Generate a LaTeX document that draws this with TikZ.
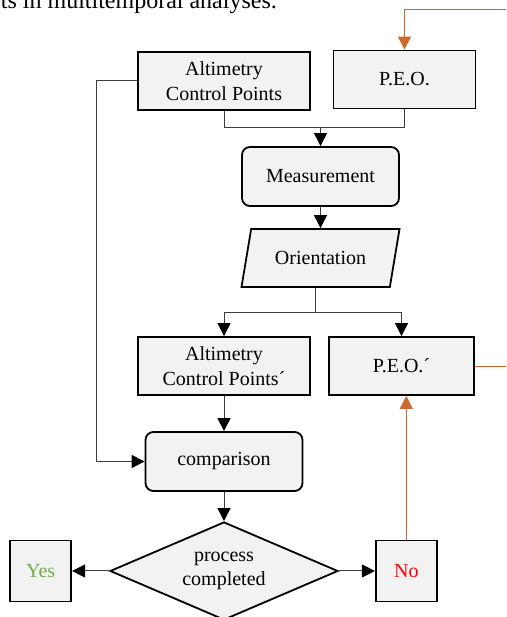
\documentclass[tikz,border=0pt]{standalone}
\usepackage{fontspec}
\setmainfont{Liberation Serif}
\definecolor{boxfill}{RGB}{242,242,242}
\definecolor{wiregray}{RGB}{60,60,60}
\definecolor{peoorange}{RGB}{205,105,45}
\definecolor{yesgreen}{RGB}{112,173,71}
\definecolor{nored}{RGB}{255,0,0}
\usetikzlibrary{
  arrows.meta,      % triangle tips
  positioning,      % left=of, right=of
  calc,             % midpoint of the slanted box bottom
  shapes.geometric  % diamond and trapezium
}
\tikzset{
  every node/.style = {
    rectangle,
    draw,
    fill = boxfill,
    line width = 1.8pt,
    align = center,
    inner sep = 2pt,
    font = \fontsize{20}{24.5}\selectfont
  },
  process/.append style = {minimum width=172pt, minimum height=58pt},
  peo/.append style = {minimum width=142pt, minimum height=58pt},
  rounded/.append style = {rounded corners=8pt, minimum width=157pt, minimum height=59pt},
  io/.append style = {
    trapezium, trapezium left angle=61, trapezium right angle=119,
    trapezium stretches body, minimum width=158pt, minimum height=58pt
  },
  decision/.append style = {diamond, aspect=2.3, inner sep=0pt,
    minimum width=228pt, minimum height=98pt},
  answer/.append style = {minimum width=61pt, minimum height=61pt},
  pagetext/.append style = {draw=none, fill=none, inner sep=0pt,
    font=\fontsize{24}{28}\selectfont},
  wire/.style = {draw=wiregray, line width=1pt,
    >={Triangle[length=13pt, width=13pt, color=black]}},
  feedback/.style = {draw=peoorange, line width=0.9pt},
  ->,        % arrows for all
  >={Triangle[length=13pt, width=13pt]}
}

\begin{document}
\begin{tikzpicture}[x=1pt, y=1pt]
  \useasboundingbox[-] (0,0) rectangle (506,617);
  \clip[-] (0,0) rectangle (506,617);

  %% nodes
  \node[pagetext, anchor=base west] (intro) at (0,608) {ts in multitemporal analyses.};

  \node[process] (ACP)  at (224,536)     {Altimetry\\Control Points};
  \node[peo]     (PEO)  at (404.5,537.5) {P.E.O.};

  \node[rounded] (MS)   at (320.5,440.5) {Measurement};
  \node[io]      (OR)   at (320.5,359)   {Orientation};

  \node[process] (ACP2) at (224,251)     {Altimetry\\Control Points´};
  \node[peo, minimum width=145pt] (PEO2) at (401.5,251) {P.E.O.´};

  \node[rounded] (CMP)  at (224,155.5)   {comparison};
  \node[decision] (DEC) at (224,46)      {process\\completed};

  \node[answer, text=yesgreen] (YES) [left=37pt of DEC]  {Yes};
  \node[answer, text=nored]    (NO)  [right=36pt of DEC] {No};

  %% arrows
  \coordinate (merge) at (MS.north |- 0,489);
  \draw[wire,-] (ACP.south) |- (merge);
  \draw[wire,-] (PEO.south) |- (merge);
  \draw[wire] (merge) -- (MS.north);

  \draw[wire] (MS.south) -- (MS.south |- OR.north);

  \coordinate (ORbase) at ($(OR.bottom left corner)!.5!(OR.bottom right corner)$);
  \draw[wire,-] (ORbase) -- ++(0,-25) coordinate (split);
  \draw[wire] (split) -| (ACP2.north);
  \draw[wire] (split) -| (PEO2.north);

  \draw[wire] (ACP.west) -- ++(-41,0) |- (CMP.west);
  \draw[wire] (ACP2.south) -- (CMP.north);
  \draw[wire] (CMP.south) -- (DEC.north);

  \draw[wire] (DEC.west) -- (YES.east);
  \draw[wire] (DEC.east) -- (NO.west);

  %% feedback loop
  \draw[feedback] (NO.north) -- (NO.north |- PEO2.south);
  \coordinate (loop) at (530,608);
  \draw[feedback] (PEO2.east) -| (loop) -| (PEO.north);

\end{tikzpicture}
\end{document}
